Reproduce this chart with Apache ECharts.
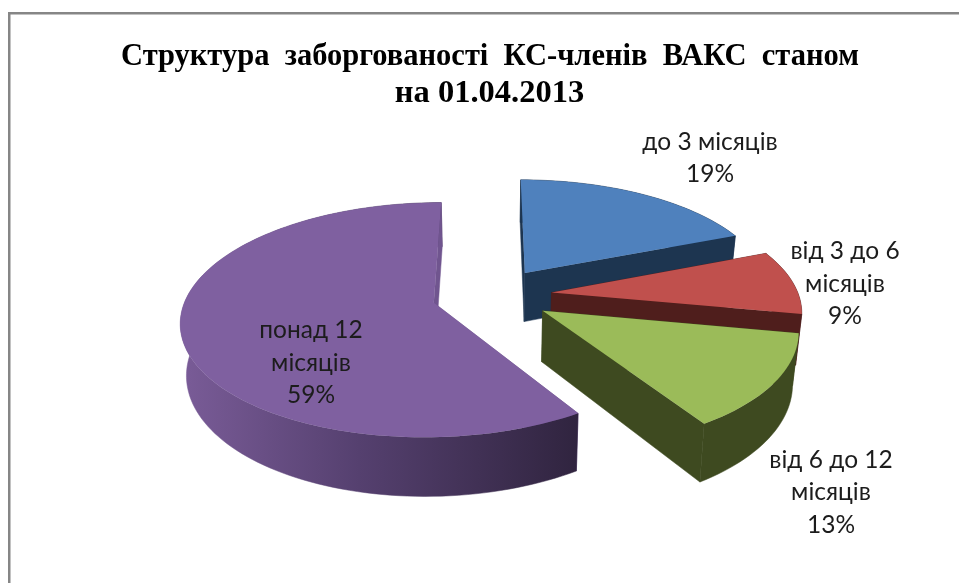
<!DOCTYPE html>
<html>
<head>
<meta charset="utf-8">
<style>html,body{margin:0;padding:0;background:#fff}#chart{width:959px;height:583px}</style>
<script src="https://cdn.jsdelivr.net/npm/echarts@6/dist/echarts.min.js"></script>
</head>
<body>
<div id="chart"></div>
<script>
const titleLines = ['Структура  заборгованості  КС-членів  ВАКС  станом', 'на 01.04.2013'];
const categories = ['до 3 місяців', 'від 3 до 6\nмісяців', 'від 6 до 12\nмісяців', 'понад 12\nмісяців'];
const shares = [19, 9, 13, 59];

const topColors = ['#4f81bd', '#c0504d', '#9bbb59', '#7f60a0'];
const wallColors = ['#1d3550', '#4f1e1c', '#3e4a20', '#70558f'];
const labelPos = [[710, 158], [845, 284], [831, 492.5], [311, 363]];

// tilted pie with perspective, the library has no 3d pie of its own
const cx = 492, cy = 295, rx = 247, ry = 112.6, persp = 0.145;
const explode = 0.243, height = 50, shrink = 0.02;

function project(x, d, down) {
    const s = 1 / (1 - persp * d);
    let px = cx + rx * x * s;
    let py = cy + ry * d * s;
    if (down) {
        px = cx + (px - cx) * (1 - shrink);
        py = py + height * s;
    }
    return [px, py];
}

function slicePoints(ox, oz, from, to, down) {
    const pts = [];
    const steps = Math.max(6, Math.ceil((to - from) / 0.03));
    for (let i = 0; i <= steps; i++) {
        const a = from + (to - from) * i / steps;
        pts.push(project(ox + Math.sin(a), oz - Math.cos(a), down));
    }
    return pts;
}

function renderSlice(params, api) {
    const idx = api.value(0);
    const total = shares.reduce((a, b) => a + b, 0);
    const before = shares.slice(0, idx).reduce((a, b) => a + b, 0);
    const from = before / total * Math.PI * 2;
    const to = (before + api.value(1)) / total * Math.PI * 2;
    const mid = (from + to) / 2;
    const ox = explode * Math.sin(mid);
    const oz = -explode * Math.cos(mid);

    const apexTop = project(ox, oz, false);
    const apexLow = project(ox, oz, true);
    const rimTop = slicePoints(ox, oz, from, to, false);
    const rimLow = slicePoints(ox, oz, from, to, true);
    const first = rimTop[0], last = rimTop[rimTop.length - 1];
    const firstLow = rimLow[0], lastLow = rimLow[rimLow.length - 1];

    let outerFill = wallColors[idx];
    if (idx === 3) {
        outerFill = new echarts.graphic.LinearGradient(0, 0, 1, 0, [
            { offset: 0, color: '#7a5c98' },
            { offset: 0.45, color: '#55406f' },
            { offset: 1, color: '#30243f' }
        ]);
    }
    const wall = (points, fill) => ({
        type: 'polygon',
        shape: { points: points },
        style: { fill: fill, stroke: fill, lineWidth: 0.5 }
    });
    return {
        type: 'group',
        children: [
            wall([apexTop, first, firstLow, apexLow], wallColors[idx]),
            wall(rimTop.concat(rimLow.slice().reverse()), outerFill),
            wall([apexTop, last, lastLow, apexLow], wallColors[idx]),
            {
                type: 'polygon',
                shape: { points: [apexTop].concat(rimTop) },
                style: { fill: topColors[idx] }
            }
        ]
    };
}

const chart = echarts.init(document.getElementById('chart'), undefined, { renderer: 'canvas' });

const labelFont = { fontFamily: 'Lato', fontSize: 24.5, lineHeight: 32.5, fill: '#1c1c1c', textAlign: 'center', textVerticalAlign: 'middle' };
const titleFont = { fontFamily: 'Liberation Serif', fontWeight: 'bold', color: '#000' };

chart.setOption({
    backgroundColor: '#fff',
    animation: false,
    title: [
        { text: titleLines[0], left: 485, top: 37, textAlign: 'center', textStyle: Object.assign({ fontSize: 30.5 }, titleFont) },
        { text: titleLines[1], left: 484.5, top: 72, textAlign: 'center', textStyle: Object.assign({ fontSize: 32.5 }, titleFont) }
    ],
    series: [{
        type: 'custom',
        coordinateSystem: 'none',
        renderItem: renderSlice,
        data: shares.map((v, i) => [i, v]),
        silent: true
    }],
    graphic: [
        { type: 'rect', shape: { x: 8, y: 12, width: 951, height: 2.5 }, style: { fill: '#868686' } },
        { type: 'rect', shape: { x: 8, y: 12, width: 2.5, height: 571 }, style: { fill: '#868686' } }
    ].concat(categories.map((name, i) => ({
        type: 'text',
        x: labelPos[i][0],
        y: labelPos[i][1],
        z: 10,
        style: Object.assign({ text: name + '\n' + shares[i] + '%' }, labelFont)
    })))
});
</script>
</body>
</html>
